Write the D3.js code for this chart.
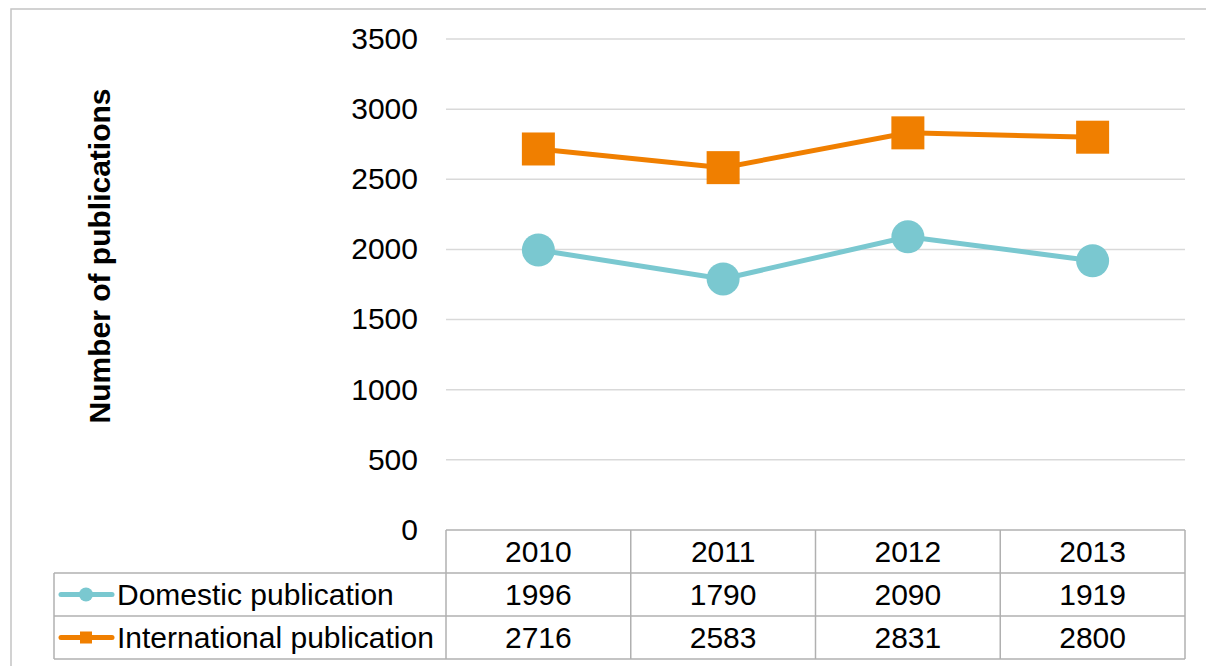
<!DOCTYPE html>
<html>
<head>
<meta charset="utf-8">
<script src="https://cdn.jsdelivr.net/npm/d3@7"></script>
<style>
  body { margin: 0; background: #fff; }
  svg { font-family: "Liberation Sans", Arial, sans-serif; }
</style>
</head>
<body>
<svg id="chart"></svg>
<script>
const width = 1206;
const height = 666;

// Data
const years = ["2010", "2011", "2012", "2013"];
const domestic = [1996, 1790, 2090, 1919];
const international = [2716, 2583, 2831, 2800];
const yTicks = [0, 500, 1000, 1500, 2000, 2500, 3000, 3500];

const series = [
  { name: "Domestic publication", values: domestic, color: "#7AC8D0", shape: "circle" },
  { name: "International publication", values: international, color: "#F07F00", shape: "square" }
];

const fontSize = 30;

const svg = d3.select("#chart")
  .attr("width", width)
  .attr("height", height);

// helper for plain text labels
function label(parent, px, py, txt, anchor, rot) {
  return parent.append("text")
    .attr("transform", `translate(${px},${py})` + (rot ? ` rotate(${rot})` : ""))
    .attr("dy", "0.36em")
    .attr("text-anchor", anchor)
    .attr("font-size", fontSize)
    .attr("fill", "#000")
    .text(txt);
}

// Outer frame
svg.append("rect")
  .attr("x", 11).attr("y", 9)
  .attr("width", 1210).attr("height", 700)
  .attr("fill", "none")
  .attr("stroke", "#c4c4c4")
  .attr("stroke-width", 1.5);

const plot = { left: 446, right: 1185, top: 39, bottom: 530 };

const x = d3.scaleBand()
  .domain(years)
  .range([plot.left, plot.right]);

const y = d3.scaleLinear()
  .domain([0, 3500])
  .range([plot.bottom, plot.top]);

// Grid lines
svg.append("g")
  .selectAll("line")
  .data(yTicks.filter(d => d > 0))
  .enter().append("line")
  .attr("x1", plot.left)
  .attr("x2", plot.right)
  .attr("y1", d => y(d))
  .attr("y2", d => y(d))
  .attr("stroke", "#d9d9d9")
  .attr("stroke-width", 1.5);

// Y tick labels
const tickG = svg.append("g");
yTicks.forEach(t => label(tickG, 418, y(t) - 1, t, "end"));

// Y axis title
label(svg, 99, 256, "Number of publications", "middle", -90)
  .attr("font-weight", "bold");

// Data table
const rowH = 43;
const tableTop = plot.bottom;
const legendLeft = 54;
const table = svg.append("g");
const gridStroke = "#b0b0b0";

// horizontal lines
[0, 1, 2, 3].forEach(i => {
  table.append("line")
    .attr("x1", i === 0 ? plot.left : legendLeft)
    .attr("x2", plot.right)
    .attr("y1", tableTop + i * rowH)
    .attr("y2", tableTop + i * rowH)
    .attr("stroke", gridStroke)
    .attr("stroke-width", 1.5);
});

// vertical lines
const colEdges = years.map(d => x(d)).concat([plot.right]);
colEdges.forEach(cx => {
  table.append("line")
    .attr("x1", cx).attr("x2", cx)
    .attr("y1", tableTop)
    .attr("y2", tableTop + 3 * rowH)
    .attr("stroke", gridStroke)
    .attr("stroke-width", 1.5);
});
table.append("line")
  .attr("x1", legendLeft).attr("x2", legendLeft)
  .attr("y1", tableTop + rowH)
  .attr("y2", tableTop + 3 * rowH)
  .attr("stroke", gridStroke)
  .attr("stroke-width", 1.5);

// header row
years.forEach(yr => label(table, x(yr) + x.bandwidth() / 2, tableTop + rowH / 2, yr, "middle"));

// value rows + legend
series.forEach((s, i) => {
  const rowMid = tableTop + (i + 1) * rowH + rowH / 2;
  s.values.forEach((v, j) => label(table, x(years[j]) + x.bandwidth() / 2, rowMid, v, "middle"));

  table.append("line")
    .attr("x1", 61).attr("x2", 112)
    .attr("y1", rowMid).attr("y2", rowMid)
    .attr("stroke", s.color)
    .attr("stroke-width", 5)
    .attr("stroke-linecap", "round");
  if (s.shape === "circle") {
    table.append("circle")
      .attr("cx", 86).attr("cy", rowMid).attr("r", 7)
      .attr("fill", s.color);
  } else {
    table.append("rect")
      .attr("x", 80).attr("y", rowMid - 6)
      .attr("width", 12).attr("height", 12)
      .attr("fill", s.color);
  }
  label(table, 117, rowMid, s.name, "start");
});

// Lines and markers
const line = d3.line()
  .x((d, j) => x(years[j]) + x.bandwidth() / 2)
  .y(d => y(d));

series.forEach(s => {
  svg.append("path")
    .datum(s.values)
    .attr("d", line)
    .attr("fill", "none")
    .attr("stroke", s.color)
    .attr("stroke-width", 5);

  const g = svg.append("g");
  if (s.shape === "circle") {
    g.selectAll("circle")
      .data(s.values)
      .enter().append("circle")
      .attr("cx", (d, j) => x(years[j]) + x.bandwidth() / 2)
      .attr("cy", d => y(d))
      .attr("r", 16.5)
      .attr("fill", s.color);
  } else {
    g.selectAll("rect")
      .data(s.values)
      .enter().append("rect")
      .attr("x", (d, j) => x(years[j]) + x.bandwidth() / 2 - 16.5)
      .attr("y", d => y(d) - 16.5)
      .attr("width", 33)
      .attr("height", 33)
      .attr("fill", s.color);
  }
});
</script>
</body>
</html>
